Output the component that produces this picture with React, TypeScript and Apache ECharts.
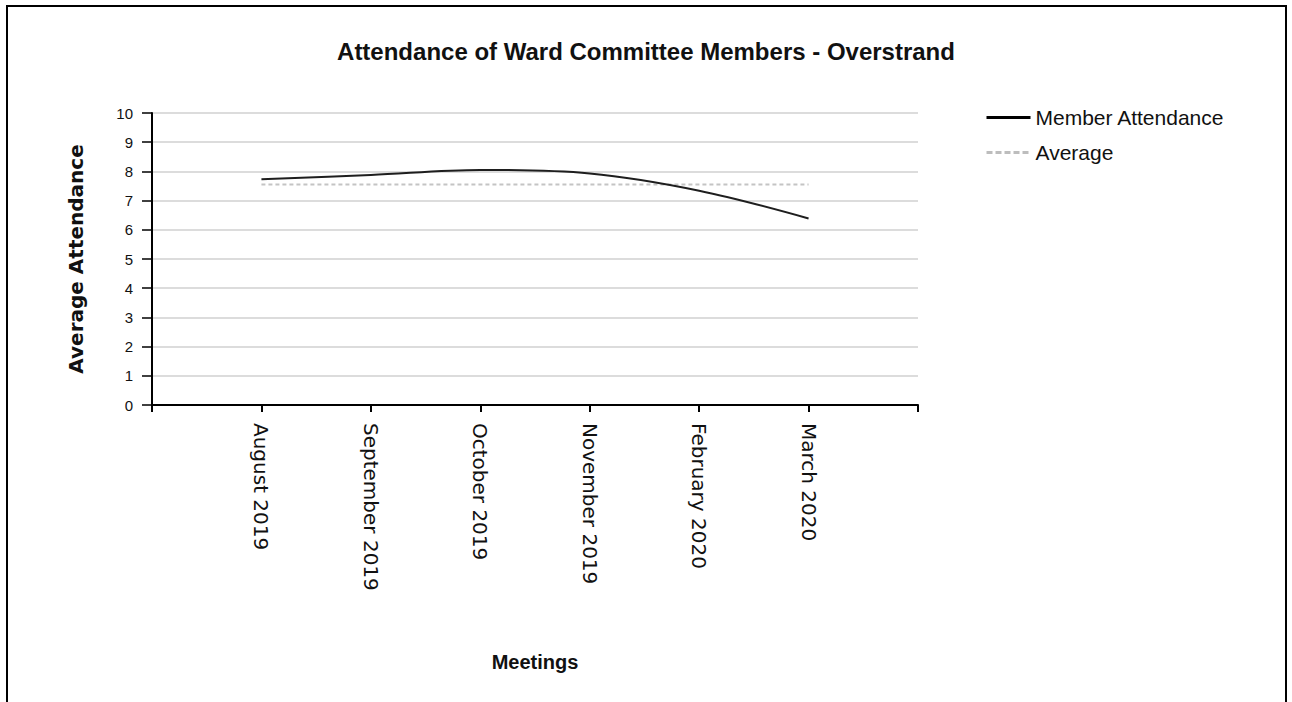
import React, { useEffect, useRef } from "react";
import * as echarts from "echarts";

const categories = ["", "August 2019", "September 2019", "October 2019", "November 2019", "February 2020", "March 2020", ""];
const memberAttendance: (number | string)[] = ["-", 7.73, 7.88, 8.05, 7.93, 7.34, 6.39, "-"];
const averageAttendance: (number | string)[] = ["-", 7.55, 7.55, 7.55, 7.55, 7.55, 7.55, "-"];
const titleText = "Attendance of Ward Committee Members - Overstrand";
const seriesNames = ["Member Attendance", "Average"];

const SANS = "'Liberation Sans', Arial, sans-serif";
const WIDE = "'DejaVu Sans', 'Liberation Sans', sans-serif";

export default function App() {
  const ref = useRef<HTMLDivElement>(null);
  useEffect(() => {
    if (!ref.current) return;
    const chart = echarts.init(ref.current, undefined, { renderer: "svg" });
    chart.setOption({
      animation: false,
      backgroundColor: "#ffffff",
      title: {
        text: titleText,
        left: "center",
        top: 34,
        textStyle: { fontFamily: SANS, fontWeight: "bold", fontSize: 24, color: "#111" },
      },
      legend: {
        orient: "vertical",
        left: 980,
        top: 102,
        itemWidth: 44,
        itemHeight: 14,
        itemGap: 14,
        textStyle: { fontFamily: SANS, fontSize: 21, color: "#111" },
        data: [
          { name: seriesNames[0], itemStyle: { opacity: 0 }, lineStyle: { width: 3, color: "#000" } },
          { name: seriesNames[1], itemStyle: { opacity: 0 }, lineStyle: { width: 3, color: "#bdbdbd", type: [6, 3] } },
        ],
      },
      graphic: [
        {
          type: "rect",
          shape: { x: 7, y: 6, width: 1279, height: 720 },
          style: { fill: "none", stroke: "#000", lineWidth: 2 },
          silent: true,
        },
      ],
      grid: { left: 152, right: 374, top: 113, bottom: 297, containLabel: false },
      xAxis: {
        type: "category",
        data: categories,
        boundaryGap: false,
        name: "Meetings",
        nameLocation: "middle",
        nameGap: 247,
        nameTextStyle: { fontFamily: SANS, fontWeight: "bold", fontSize: 20, color: "#111" },
        axisLine: { lineStyle: { color: "#000", width: 2 } },
        axisTick: { show: true, length: 7, interval: 0, lineStyle: { color: "#000", width: 2 } },
        axisLabel: {
          interval: 0,
          rotate: -90,
          margin: 18,
          fontFamily: WIDE,
          fontSize: 20,
          color: "#111",
        },
        splitLine: { show: false },
      },
      yAxis: {
        type: "value",
        min: 0,
        max: 10,
        interval: 1,
        name: "Average Attendance",
        nameLocation: "middle",
        nameGap: 66,
        nameTextStyle: { fontFamily: WIDE, fontWeight: "bold", fontSize: 20, color: "#111" },
        axisLine: { show: true, lineStyle: { color: "#000", width: 2 } },
        axisTick: { show: true, length: 10, lineStyle: { color: "#000", width: 1.5 } },
        axisLabel: { margin: 19, fontFamily: SANS, fontSize: 15, color: "#111" },
        splitLine: { show: true, lineStyle: { color: "#dcdcdc", width: 2 } },
      },
      series: [
        {
          name: seriesNames[1],
          type: "line",
          data: averageAttendance,
          symbol: "none",
          lineStyle: { color: "#c4c4c4", width: 2, type: [4, 3] },
          itemStyle: { color: "#c4c4c4" },
          z: 2,
        },
        {
          name: seriesNames[0],
          type: "line",
          data: memberAttendance,
          symbol: "none",
          smooth: 0.35,
          lineStyle: { color: "#1e1e1e", width: 2 },
          itemStyle: { color: "#000" },
          z: 3,
        },
      ],
    });
    return () => chart.dispose();
  }, []);
  return (
    <div
      ref={ref}
      style={{ position: "fixed", left: 0, top: 0, width: 1292, height: 702 }}
    />
  );
}
